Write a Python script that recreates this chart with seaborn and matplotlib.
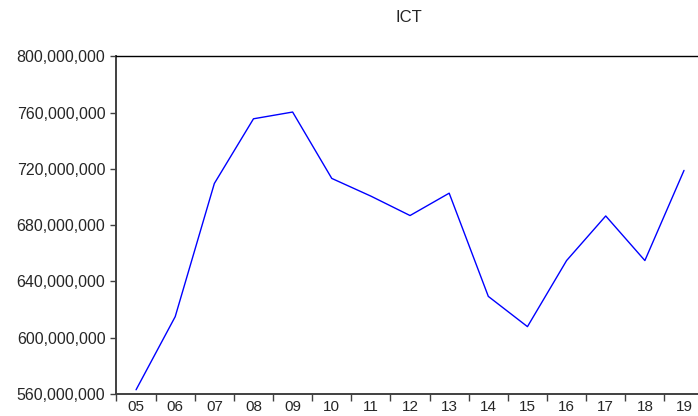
import matplotlib
matplotlib.use("Agg")
import matplotlib.pyplot as plt
import matplotlib.ticker as mticker
import seaborn as sns
import pandas as pd

years = [5, 6, 7, 8, 9, 10, 11, 12, 13, 14, 15, 16, 17, 18, 19]
year_labels = ["05", "06", "07", "08", "09", "10", "11", "12", "13", "14",
               "15", "16", "17", "18", "19"]
ict = [563e6, 615e6, 709.7e6, 755.7e6, 760.5e6, 713.3e6, 700.7e6, 686.9e6,
       702.8e6, 629.4e6, 607.9e6, 654.9e6, 686.6e6, 654.9e6, 719e6]
y_ticks = [560e6, 600e6, 640e6, 680e6, 720e6, 760e6, 800e6]

df = pd.DataFrame({"year": years, "ICT": ict})

sns.set_style("ticks")
plt.rcParams['font.family'] = ['Liberation Sans', 'DejaVu Sans']

fig = plt.figure(figsize=(6.98, 4.16), dpi=100)
ax = fig.add_axes([0.1669, 0.0529, 0.8411, 0.8113])

sns.lineplot(data=df, x="year", y="ICT", color="#0000FF", linewidth=1.0, ax=ax)

ax.set_xlim(4.5, 19.5)
ax.set_ylim(560e6, 800e6)
ax.set_xlabel("")
ax.set_ylabel("")

# ticks at year boundaries, labels centred on years
ax.set_xticks([y - 0.5 for y in years])
ax.set_xticklabels([])
ax.set_xticks(years, minor=True)
ax.set_xticklabels(year_labels, minor=True)
ax.tick_params(axis="x", which="major", length=5, width=1, color="#404040", direction="out")
ax.tick_params(axis="x", which="minor", length=0, pad=4.5, labelsize=11)

ax.set_yticks(y_ticks)
ax.yaxis.set_major_formatter(mticker.FuncFormatter(lambda v, p: f"{int(round(v)):,}"))
ax.tick_params(axis="y", length=4.5, width=1, color="#404040", pad=3.5, labelsize=11.5)

for side in ["left", "bottom"]:
    ax.spines[side].set_color("#404040")
    ax.spines[side].set_linewidth(1.4)
ax.spines["top"].set_color("black")
ax.spines["top"].set_linewidth(1.0)
ax.spines["right"].set_visible(True)
ax.spines["right"].set_color("black")

fig.text(409 / 698, 1 - 17 / 416, "ICT", ha="center", va="center", fontsize=12)

fig.savefig("out.png", dpi=100)
